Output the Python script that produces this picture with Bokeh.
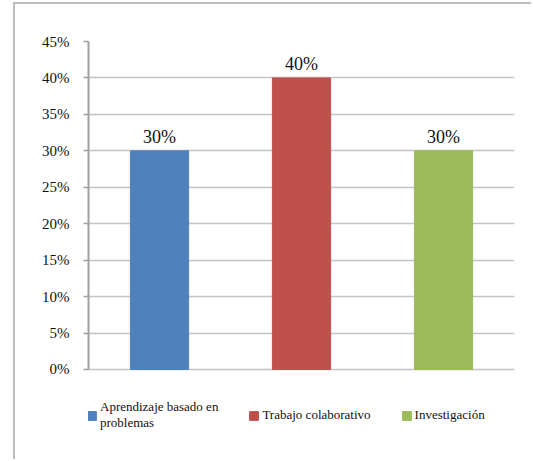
from bokeh.plotting import figure
from bokeh.models import ColumnDataSource, Legend, LegendItem, NumeralTickFormatter, FixedTicker, Range1d
from bokeh.embed import file_html
from bokeh.resources import INLINE
from bokeh.core.properties import value

categories = ["Aprendizaje basado en problemas", "Trabajo colaborativo", "Investigación"]
legend_labels = ["Aprendizaje basado en\nproblemas", "Trabajo colaborativo", "Investigación"]
values = [0.30, 0.40, 0.30]
value_labels = ["30%", "40%", "30%"]
colors = ["#4F81BD", "#C0504D", "#9BBB59"]
y_ticks = [0, 0.05, 0.10, 0.15, 0.20, 0.25, 0.30, 0.35, 0.40, 0.45]

FONT = "Liberation Sans Narrow"

p = figure(width=518, height=457, x_range=categories, y_range=Range1d(-0.118, 0.45),
           output_backend="svg", toolbar_location=None,
           min_border_left=73, min_border_right=19, min_border_top=37, min_border_bottom=6)
p.margin = (2, 0, 0, 13)
p.styles = {"border-top": "2px solid #bdbdbd", "border-left": "2px solid #bdbdbd"}
p.outline_line_color = None
p.background_fill_color = "white"
p.border_fill_color = "white"

src = ColumnDataSource(dict(cat=categories, val=values, lab=value_labels, col=colors, leg=legend_labels))
r = p.vbar(x="cat", top="val", width=0.41, color="col", source=src)

p.text(x="cat", y="val", text="lab", source=src, text_align="center", text_baseline="bottom",
       y_offset=-4, text_font=value(FONT), text_font_size="18px", text_color="#111111")

p.xaxis.visible = False
p.xgrid.visible = False
p.ygrid.grid_line_color = "#c4c4c4"
p.ygrid.grid_line_width = 1.5
p.ygrid.bounds = (0, 0.45)
p.yaxis.bounds = (0, 0.45)
p.yaxis.ticker = FixedTicker(ticks=y_ticks)
p.yaxis.formatter = NumeralTickFormatter(format="0%")
p.yaxis.axis_line_color = "#a0a0a0"
p.yaxis.axis_line_width = 2
p.yaxis.major_tick_line_color = "#a0a0a0"
p.yaxis.major_tick_line_width = 1.5
p.yaxis.major_tick_out = 5
p.yaxis.major_tick_in = 0
p.yaxis.minor_tick_line_color = None
p.yaxis.major_label_standoff = 14
p.yaxis.major_label_text_font = FONT
p.yaxis.major_label_text_font_size = "15px"
p.yaxis.major_label_text_color = "#111111"

items = [LegendItem(label=legend_labels[i], renderers=[r], index=i) for i in range(3)]
legend = Legend(items=items, orientation="horizontal", location=(-2, 24),
                label_text_font=FONT, label_text_font_size="13px", label_text_color="#111111",
                glyph_width=11, glyph_height=11, label_standoff=3, spacing=30,
                padding=0, margin=0, border_line_color=None, background_fill_alpha=0)
p.add_layout(legend, "center")

open("out.html", "w").write(file_html(p, INLINE))
